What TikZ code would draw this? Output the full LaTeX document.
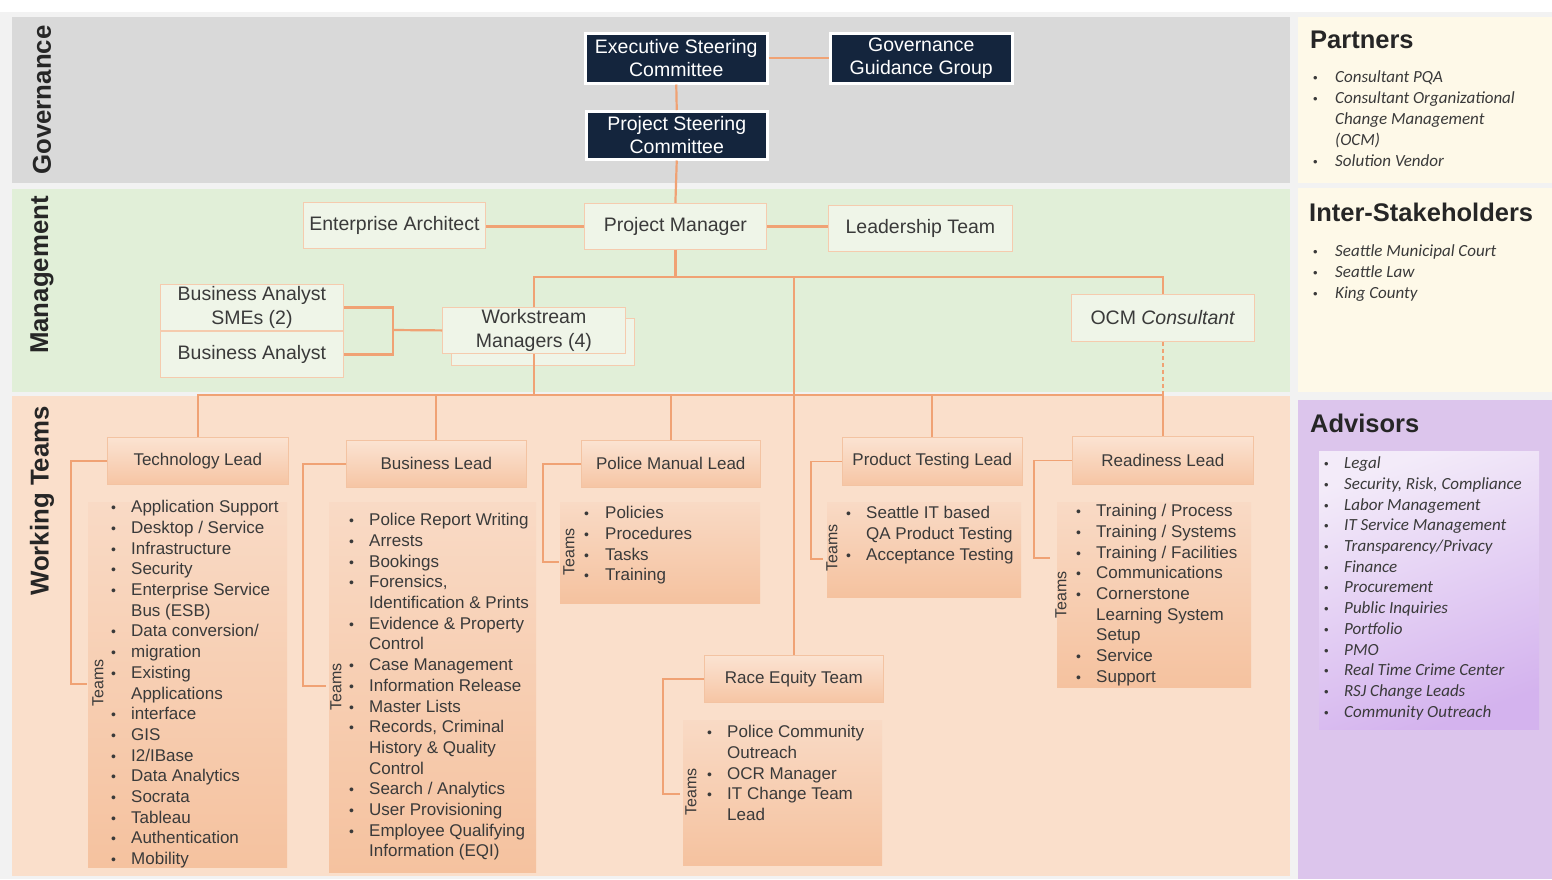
\documentclass[tikz,border=0pt]{standalone}
\usepackage{fontspec}
\setmainfont{Liberation Sans}
\newfontfamily\calfont{Carlito}
\definecolor{outer}{HTML}{F2F2F2}
\definecolor{govband}{HTML}{D9D9D9}
\definecolor{mgmtband}{HTML}{E1EFD8}
\definecolor{teamband}{HTML}{FADFCB}
\definecolor{cream}{HTML}{FEF9E8}
\definecolor{lav}{HTML}{DCC5EC}
\definecolor{lavtop}{HTML}{F3EBF9}
\definecolor{lavbot}{HTML}{D4B3EE}
\definecolor{navy}{HTML}{14253D}
\definecolor{link}{HTML}{F0A274}
\definecolor{mgfill}{HTML}{EFF5E8}
\definecolor{mgedge}{HTML}{F5CBAE}
\definecolor{leadtop}{HTML}{FBE3D2}
\definecolor{leadbot}{HTML}{F6C5A4}
\definecolor{leadedge}{HTML}{F3C3A2}
\definecolor{teamtop}{HTML}{F9DAC5}
\definecolor{teambot}{HTML}{F5C29F}
\definecolor{ink}{HTML}{3A3A3A}
\definecolor{title}{HTML}{262626}
% small upright bullets for the lists
\newcommand{\itm}{{\fontsize{14}{14}\selectfont\textbullet}}
\newcommand{\ibul}{{\rmfamily\upshape\fontsize{13}{13}\selectfont\textbullet}}
\begin{document}
\begin{tikzpicture}[x=1pt,y=-1pt,
  conn/.style={draw=link, line width=2.2pt},
  sub/.style={draw=link, line width=1.6pt},
  govbox/.style={draw=white, line width=2.5pt, fill=navy, text=white,
    font=\fontsize{19.5}{23}\selectfont, align=center, inner sep=0pt, anchor=north west},
  mgbox/.style={draw=mgedge, line width=0.8pt, fill=mgfill, text=ink,
    font=\fontsize{19.5}{24}\selectfont, align=center, inner sep=0pt, anchor=north west},
  leadbox/.style={draw=leadedge, line width=0.6pt, top color=leadtop, bottom color=leadbot,
    text=ink, font=\fontsize{17}{20}\selectfont, inner sep=0pt, anchor=north west},
  teambox/.style={top color=teamtop, bottom color=teambot},
  teamslbl/.style={rotate=90, font=\fontsize{16}{18}\selectfont, text=ink, inner sep=0pt},
  bandlbl/.style={rotate=90, font=\bfseries\fontsize{25.8}{30}\selectfont, text=title, inner sep=0pt},
  list/.style={anchor=north west, inner sep=0pt, font=\fontsize{17}{20.7}\selectfont, text=ink},
  ilist/.style={anchor=north west, inner sep=0pt, font=\calfont\itshape\fontsize{17}{21}\selectfont, text=ink},
  paneltitle/.style={anchor=west, inner sep=0pt, font=\bfseries\fontsize{25.5}{30}\selectfont, text=title},
]
\useasboundingbox (0,0) rectangle (1552,879);
% background and bands
\fill[outer] (0,0) rectangle (1552,879);
\fill[white] (0,0) rectangle (1552,12);
\fill[govband] (12,17) rectangle (1290,183);
\fill[mgmtband] (12,189) rectangle (1290,392);
\fill[teamband] (12,396) rectangle (1290,876);
\fill[cream] (1298,17) rectangle (1552,183);
\fill[cream] (1298,188) rectangle (1552,392);
\fill[lav] (1298,400) rectangle (1552,879);

% band titles
\node[bandlbl] (lgov) at (42,100) {Governance};
\node[bandlbl] (lmgmt) at (42,275) {Management};
\node[bandlbl] (lteam) at (42,501) {Working Teams};

% governance
\node[govbox, minimum width=182pt, minimum height=50pt] (exec) at (584,32) {Executive Steering\\Committee};
\node[govbox, minimum width=182pt, minimum height=50pt] (ggg) at (829,32) {Governance\\Guidance Group};
\node[govbox, minimum width=181pt, minimum height=48pt] (psc) at (585,110) {Project Steering\\Committee};

% management
\node[mgbox, minimum width=182pt, minimum height=46pt] (ea) at (303,202) {Enterprise Architect};
\node[mgbox, minimum width=182pt, minimum height=46pt] (pm) at (584,203) {Project Manager};
\node[mgbox, minimum width=184pt, minimum height=46pt] (lt) at (828,205) {Leadership Team};
\node[mgbox, minimum width=183pt, minimum height=46pt] (bas) at (160,284) {Business Analyst\\SMEs (2)};
\node[mgbox, minimum width=183pt, minimum height=46pt] (ba) at (160,331) {Business Analyst};
\node[mgbox, minimum width=183pt, minimum height=47pt] (wsmb) at (451,318) {};
\node[mgbox, minimum width=183pt, minimum height=46pt] (wsm) at (442,307) {Workstream\\Managers (4)};
\node[mgbox, minimum width=183pt, minimum height=47pt] (ocm) at (1071,294) {OCM \textit{Consultant}};

% working team leads
\node[leadbox, minimum width=181pt, minimum height=47pt] (tl) at (107,437) {Technology Lead};
\node[leadbox, minimum width=180pt, minimum height=47pt] (bl) at (346,440) {Business Lead};
\node[leadbox, minimum width=179pt, minimum height=47pt] (pml) at (581,440) {Police Manual Lead};
\node[leadbox, minimum width=180pt, minimum height=48pt] (ptl) at (842,437) {Product Testing Lead};
\node[leadbox, minimum width=181pt, minimum height=48pt] (rl) at (1072,436) {Readiness Lead};
\node[leadbox, minimum width=179pt, minimum height=47pt] (ret) at (704,655) {Race Equity Team};

% team list panels
\shade[teambox] (88,502) rectangle (287,867);
\shade[teambox] (329,502) rectangle (536,872);
\shade[teambox] (560,502) rectangle (760,603);
\shade[teambox] (827,502) rectangle (1021,597);
\shade[teambox] (1057,502) rectangle (1251,687);
\shade[teambox] (683,720) rectangle (882,865);

\node[teamslbl] (tl-tm) at (98,683) {Teams};
\node[teamslbl] (bl-tm) at (336,687) {Teams};
\node[teamslbl] (pml-tm) at (569,552) {Teams};
\node[teamslbl] (ptl-tm) at (832,548) {Teams};
\node[teamslbl] (rl-tm) at (1061,595) {Teams};
\node[teamslbl] (ret-tm) at (691,792) {Teams};

\node[list] (tl-list) at (111,498) {\begin{tabular}{@{}p{20pt}@{}l@{}}
\itm & Application Support\\
\itm & Desktop / Service\\
\itm & Infrastructure\\
\itm & Security\\
\itm & Enterprise Service\\
     & Bus (ESB)\\
\itm & Data conversion/\\
\itm & migration\\
\itm & Existing\\
     & Applications\\
\itm & interface\\
\itm & GIS\\
\itm & I2/IBase\\
\itm & Data Analytics\\
\itm & Socrata\\
\itm & Tableau\\
\itm & Authentication\\
\itm & Mobility
\end{tabular}};

\node[list] (bl-list) at (349,511) {\begin{tabular}{@{}p{20pt}@{}l@{}}
\itm & Police Report Writing\\
\itm & Arrests\\
\itm & Bookings\\
\itm & Forensics,\\
     & Identification \& Prints\\
\itm & Evidence \& Property\\
     & Control\\
\itm & Case Management\\
\itm & Information Release\\
\itm & Master Lists\\
\itm & Records, Criminal\\
     & History \& Quality\\
     & Control\\
\itm & Search / Analytics\\
\itm & User Provisioning\\
\itm & Employee Qualifying\\
     & Information (EQI)
\end{tabular}};

\node[list] (pml-list) at (584,504) {\begin{tabular}{@{}p{21pt}@{}l@{}}
\itm & Policies\\
\itm & Procedures\\
\itm & Tasks\\
\itm & Training
\end{tabular}};

\node[list] (ptl-list) at (846,504) {\begin{tabular}{@{}p{20pt}@{}l@{}}
\itm & Seattle IT based\\
     & QA Product Testing\\
\itm & Acceptance Testing
\end{tabular}};

\node[list] (rl-list) at (1076,502) {\begin{tabular}{@{}p{20pt}@{}l@{}}
\itm & Training / Process\\
\itm & Training / Systems\\
\itm & Training / Facilities\\
\itm & Communications\\
\itm & Cornerstone\\
     & Learning System\\
     & Setup\\
\itm & Service\\
\itm & Support
\end{tabular}};

\node[list] (ret-list) at (707,723) {\begin{tabular}{@{}p{20pt}@{}l@{}}
\itm & Police Community\\
     & Outreach\\
\itm & OCR Manager\\
\itm & IT Change Team\\
     & Lead
\end{tabular}};

% side panels
\node[paneltitle] (partners) at (1310,40) {Partners};
\node[ilist] (partners-list) at (1313,68) {\begin{tabular}{@{}p{22pt}@{}l@{}}
\ibul & Consultant PQA\\
\ibul & Consultant Organizational\\
      & Change Management\\
      & (OCM)\\
\ibul & Solution Vendor
\end{tabular}};

\node[paneltitle] (inter) at (1309,212) {Inter-Stakeholders};
\node[ilist] (inter-list) at (1313,242) {\begin{tabular}{@{}p{22pt}@{}l@{}}
\ibul & Seattle Municipal Court\\
\ibul & Seattle Law\\
\ibul & King County
\end{tabular}};

\node[paneltitle] (advisors) at (1310,423) {Advisors};
\shade[top color=lavtop, bottom color=lavbot, shading angle=20] (1319,451) rectangle (1539,729);
\node[ilist, font=\calfont\itshape\fontsize{17}{20.7}\selectfont] (advisors-list) at (1324,454) {\begin{tabular}{@{}p{20pt}@{}l@{}}
\ibul & Legal\\
\ibul & Security, Risk, Compliance\\
\ibul & Labor Management\\
\ibul & IT Service Management\\
\ibul & Transparency/Privacy\\
\ibul & Finance\\
\ibul & Procurement\\
\ibul & Public Inquiries\\
\ibul & Portfolio\\
\ibul & PMO\\
\ibul & Real Time Crime Center\\
\ibul & RSJ Change Leads\\
\ibul & Community Outreach
\end{tabular}};

% connectors
\coordinate (bus1) at (675,277);
\coordinate (bus2) at (675,395);
\coordinate (bak) at (393,330);
\draw[conn] (exec.east) -- (exec.east -| ggg.west);
\draw[conn] (exec.south) -- (psc.north);
\draw[conn] (psc.south) -- (pm.north);
\draw[conn] (pm.west) -- (pm.west -| ea.east);
\draw[conn] (pm.east) -- (pm.east -| lt.west);
\draw[conn] (pm.south) -- (pm.south |- bus1);
\draw[conn] (wsm.north) -- (wsm.north |- bus1) -| (ocm.north);
\draw[conn] (ret.north) -- (ret.north |- bus1);
\draw[conn] (bas.east) -| (bak) |- (ba.east);
\draw[conn] (bak) -- (wsm.west);
\draw[conn] (wsm.south) -- (wsm.south |- bus2);
\draw[draw=link, line width=1.4pt, dash pattern=on 4pt off 3pt] (ocm.south) -- (ocm.south |- bus2);
\draw[conn] (tl.north) -- (tl.north |- bus2) -| (rl.north);
\draw[conn] (bl.north) -- (bl.north |- bus2);
\draw[conn] (pml.north) -- (pml.north |- bus2);
\draw[conn] (ptl.north) -- (ptl.north |- bus2);

% lead-to-team brackets
\coordinate (tl-c) at (71,684);   \coordinate (tl-e) at (87,684);
\coordinate (bl-c) at (303,686);  \coordinate (bl-e) at (326,686);
\coordinate (pml-c) at (543,562); \coordinate (pml-e) at (559,562);
\coordinate (ptl-c) at (811,559); \coordinate (ptl-e) at (823,559);
\coordinate (rl-c) at (1034,558); \coordinate (rl-e) at (1050,558);
\coordinate (ret-c) at (663,794); \coordinate (ret-e) at (680,794);
\foreach \n in {tl,bl,pml,ptl,rl,ret}
  \draw[sub] (\n.west) -| (\n-c) -- (\n-e);
\end{tikzpicture}
\end{document}
